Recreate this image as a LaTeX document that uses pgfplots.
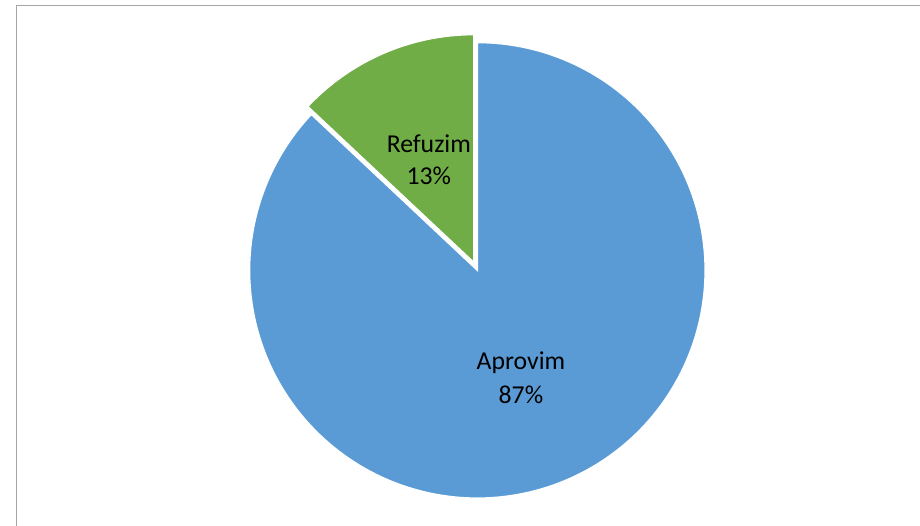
\documentclass[border=0pt]{standalone}
\usepackage{fontspec}
\setmainfont{Carlito}
\usepackage{pgfplots}
\usepackage{pgfplotstable}
\pgfplotsset{compat=1.18}
\definecolor{pieblue}{HTML}{5B9BD5}
\definecolor{piegreen}{HTML}{70AD47}
\definecolor{framegray}{HTML}{A6A6A6}

\pgfplotstableread{
label value
Aprovim 87
Refuzim 13
}\piedata

\begin{document}
\pgfplotstablegetelem{0}{value}\of\piedata \let\vA\pgfplotsretval
\pgfplotstablegetelem{1}{value}\of\piedata \let\vR\pgfplotsretval
\pgfmathsetmacro{\rS}{90}
\pgfmathsetmacro{\rE}{90+360*\vR/(\vA+\vR)}
\pgfmathsetmacro{\aS}{\rE}
\pgfmathsetmacro{\aE}{450}
\begin{tikzpicture}
\begin{axis}[
  hide axis, scale only axis,
  width=920pt, height=531pt,
  xmin=0, xmax=920, ymin=0, ymax=531,
  clip=true,
  anchor=south west, at={(0pt,0pt)},
]
% chart frame
\draw[framegray, line width=1.3pt] (axis cs:7.5,0) -- (axis cs:7.5,525.5) -- (axis cs:920,525.5);
% Aprovim slice
\addplot[fill=pieblue, draw=white, line width=1.4pt, domain=\aS:\aE, samples=200, variable=\t]
  ({473+230*cos(t)},{258+230*sin(t)}) -- (axis cs:473,258) -- cycle;
% Refuzim slice (exploded)
\addplot[fill=piegreen, draw=white, line width=1.4pt, domain=\rS:\rE, samples=60, variable=\t]
  ({469.5+230*cos(t)},{266+230*sin(t)}) -- (axis cs:469.5,266) -- cycle;
% labels
\node[font=\fontsize{26}{31}\selectfont, inner sep=0pt] at (axis cs:424,386) {Refuzim};
\node[font=\fontsize{26}{31}\selectfont, inner sep=0pt] at (axis cs:424,353) {\vR\%};
\node[font=\fontsize{26}{31}\selectfont, inner sep=0pt] at (axis cs:517,165) {Aprovim};
\node[font=\fontsize{26}{31}\selectfont, inner sep=0pt] at (axis cs:517,132) {\vA\%};
\end{axis}
\pgfresetboundingbox
\path[use as bounding box] (0pt,0pt) rectangle (920pt,531pt);
\end{tikzpicture}
\end{document}
